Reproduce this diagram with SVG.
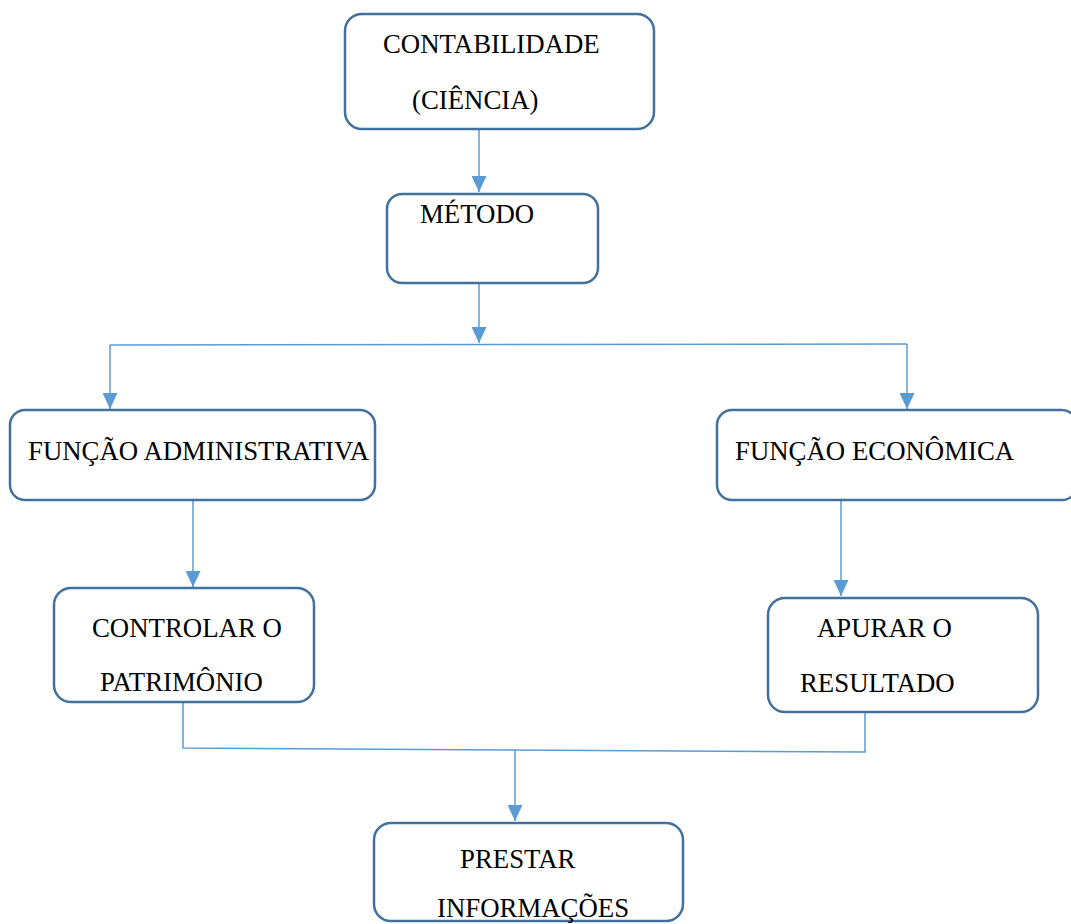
<svg xmlns="http://www.w3.org/2000/svg" width="1071" height="924" viewBox="0 0 1071 924">
  <style>
    .box { fill: #ffffff; stroke: #41719C; stroke-width: 2.5; }
    .lbl { font-family: "Liberation Serif", "Times New Roman", serif; font-size: 26.8px; fill: #000000; }
    .wire { fill: none; stroke: #5B9BD5; stroke-width: 1.5; }
  </style>
  <defs>
    <marker id="tip" viewBox="0 0 16 15" refX="16" refY="7.5" markerWidth="16" markerHeight="15" markerUnits="userSpaceOnUse" orient="auto">
      <path d="M0,0 L16,7.5 L0,15 Z" fill="#5B9BD5"/>
    </marker>
  </defs>
  <rect width="1071" height="924" fill="#ffffff"/>

  <g id="connectors">
    <path class="wire" d="M479,130 L479,192" marker-end="url(#tip)"/>
    <path class="wire" d="M479,284 L479,343" marker-end="url(#tip)"/>
    <path class="wire" d="M110,345 L907,344"/>
    <path class="wire" d="M110,345 L110,409" marker-end="url(#tip)"/>
    <path class="wire" d="M907,344 L907,409" marker-end="url(#tip)"/>
    <path class="wire" d="M193,501 L193,587" marker-end="url(#tip)"/>
    <path class="wire" d="M841,501 L841,596" marker-end="url(#tip)"/>
    <path class="wire" d="M183,703 L183,748 L865,752 L865,713"/>
    <path class="wire" d="M515,750 L515,821" marker-end="url(#tip)"/>
  </g>

  <g id="contabilidade">
    <rect class="box" x="345" y="14" width="309" height="115" rx="17"/>
    <text class="lbl" x="383" y="53">CONTABILIDADE</text>
    <text class="lbl" x="412" y="109">(CIÊNCIA)</text>
  </g>

  <g id="metodo">
    <rect class="box" x="387" y="194" width="211" height="89" rx="15"/>
    <text class="lbl" x="420" y="223">MÉTODO</text>
  </g>

  <g id="funcao-administrativa">
    <rect class="box" x="10" y="410" width="365" height="90" rx="15"/>
    <text class="lbl" x="28" y="460">FUNÇÃO ADMINISTRATIVA</text>
  </g>

  <g id="funcao-economica">
    <rect class="box" x="717" y="410" width="360" height="90" rx="15"/>
    <text class="lbl" x="735" y="460">FUNÇÃO ECONÔMICA</text>
  </g>

  <g id="controlar-patrimonio">
    <rect class="box" x="54" y="588" width="260" height="114" rx="17"/>
    <text class="lbl" x="92" y="637">CONTROLAR O</text>
    <text class="lbl" x="100" y="691">PATRIMÔNIO</text>
  </g>

  <g id="apurar-resultado">
    <rect class="box" x="768" y="598" width="270" height="114" rx="17"/>
    <text class="lbl" x="817" y="637">APURAR O</text>
    <text class="lbl" x="800" y="692">RESULTADO</text>
  </g>

  <g id="prestar-informacoes">
    <rect class="box" x="374" y="823" width="309" height="98" rx="17"/>
    <text class="lbl" x="460" y="868">PRESTAR</text>
    <text class="lbl" x="437" y="917">INFORMAÇÕES</text>
  </g>
</svg>
